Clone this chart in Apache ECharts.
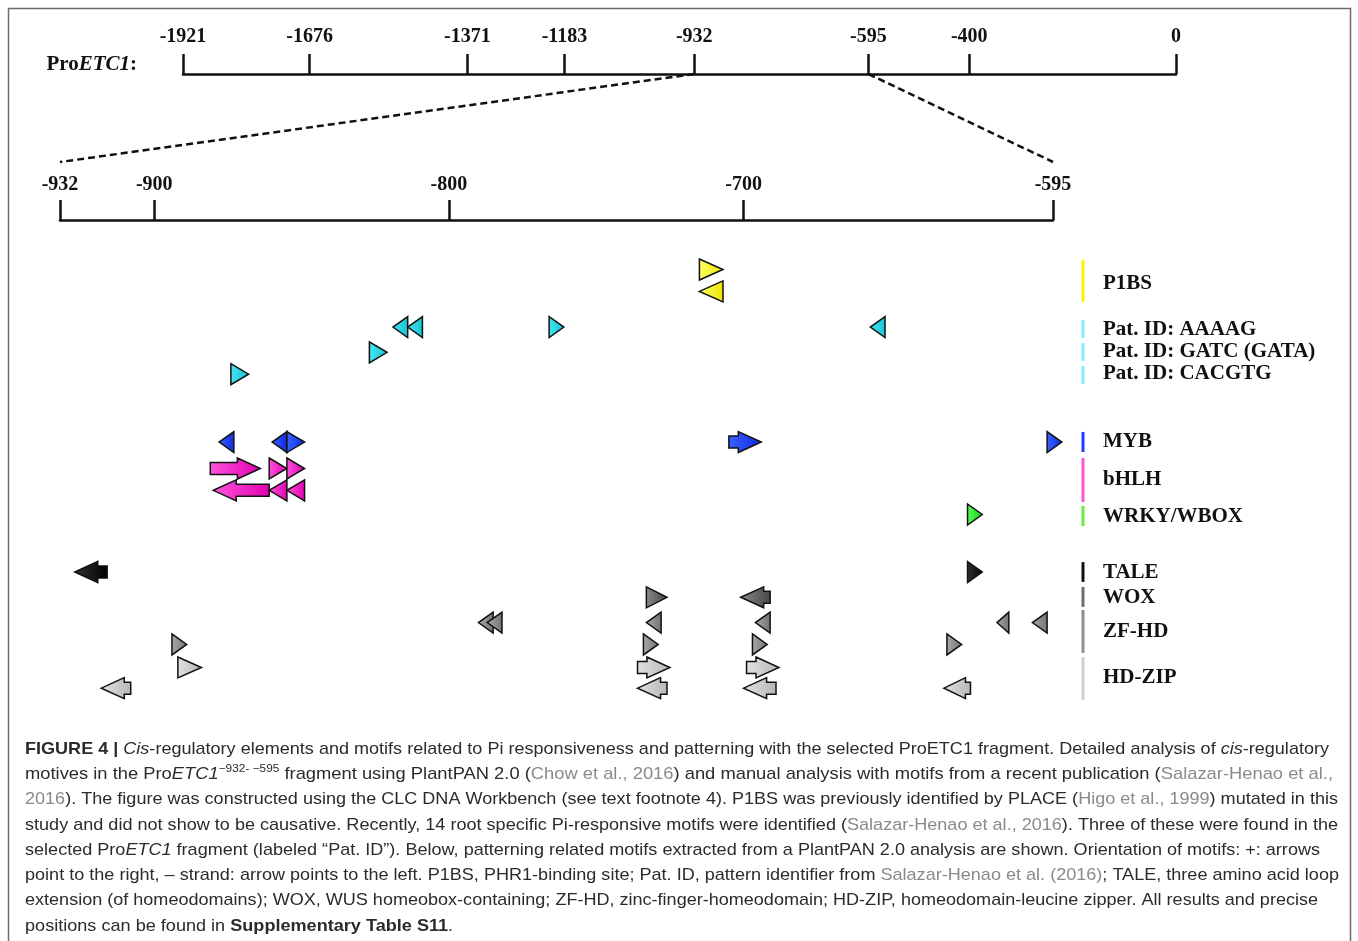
<!DOCTYPE html>
<html>
<head>
<meta charset="utf-8">
<script src="https://cdn.jsdelivr.net/npm/echarts@6/dist/echarts.min.js"></script>
<style>
  html, body { margin: 0; padding: 0; background: #fff; }
  #chart { width: 1358px; height: 941px; }
</style>
</head>
<body>
<div id="chart"></div>
<script>
// tick labels of the two position rulers (bp upstream of the start codon)
const promoterTicks = [-1921, -1676, -1371, -1183, -932, -595, -400, 0]
const fragmentTicks = [-932, -900, -800, -700, -595]

// motifs: [start bp, end bp, strand (+1 right / -1 left), track]
const p1bs = [[-715, -707, 1, 0.85], [-715, -707, -1, 1.8]]
const aaaag = [[-819, -814, -1, 3.35], [-814, -809, -1, 3.35], [-766, -761, 1, 3.35], [-657, -652, -1, 3.35]]
const gatc = [[-827, -821, 1, 4.45]]
const cacgtg = [[-874, -868, 1, 5.4]]
const myb = [[-878, -873, -1, 8.35], [-860, -855, -1, 8.35], [-855, -849, 1, 8.35], [-705, -694, 1, 8.35], [-597, -592, 1, 8.35]]
const bhlh = [
  [-881, -864, 1, 9.5], [-861, -855, 1, 9.5], [-855, -849, 1, 9.5],
  [-880, -861, -1, 10.45], [-861, -855, -1, 10.45], [-855, -849, -1, 10.45],
]
const wrky = [[-624, -619, 1, 11.5]]
const tale = [[-927, -916, -1, 14], [-624, -619, 1, 14]]
const wox = [[-733, -726, 1, 15.1], [-701, -691, -1, 15.1]]
const zfhd = [
  [-790, -785, -1, 16.2], [-787, -782, -1, 16.2], [-733, -728, -1, 16.2], [-696, -691, -1, 16.2],
  [-614, -610, -1, 16.2], [-602, -597, -1, 16.2],
  [-894, -889, 1, 17.15], [-734, -729, 1, 17.15], [-697, -692, 1, 17.15], [-631, -626, 1, 17.15],
]
const hdzip = [
  [-892, -884, 1, 18.15], [-736, -725, 1, 18.15], [-699, -688, 1, 18.15],
  [-918, -908, -1, 19.05], [-736, -726, -1, 19.05], [-700, -689, -1, 19.05], [-632, -623, -1, 19.05],
]

// legend: names, bar extent and label track
const legendNames = ['P1BS', 'Pat. ID: AAAAG', 'Pat. ID: GATC (GATA)', 'Pat. ID: CACGTG', 'MYB', 'bHLH', 'WRKY/WBOX', 'TALE', 'WOX', 'ZF-HD', 'HD-ZIP']
const legendFrom = [0.43, 3.04, 4.04, 5.04, 7.91, 9.04, 11.13, 13.57, 14.65, 15.65, 17.7]
const legendTo = [2.26, 3.83, 4.83, 5.83, 8.78, 10.96, 12.0, 14.43, 15.52, 17.52, 19.57]
const legendAt = [1.48, 3.48, 4.43, 5.39, 8.35, 10.0, 11.57, 14.04, 15.13, 16.61, 18.57]

const LEGEND_COLORS = ['#fff200', '#80eeff', '#80eeff', '#80eeff', '#1f3cff', '#ff55cc', '#66ee44', '#111111', '#6e6e6e', '#8e8e8e', '#d0d0d0']

const families = [
  ['P1BS', p1bs, ['#ffff66', '#eee400']],
  ['AAAAG', aaaag, ['#48e4f2', '#12c4d8']],
  ['GATC', gatc, ['#48e4f2', '#12c4d8']],
  ['CACGTG', cacgtg, ['#48e4f2', '#12c4d8']],
  ['MYB', myb, ['#3d62ff', '#0a2ae0']],
  ['bHLH', bhlh, ['#ff55dc', '#e000b0']],
  ['WRKY', wrky, ['#5cff5c', '#12d012']],
  ['TALE', tale, ['#333333', '#000000']],
  ['WOX', wox, ['#8a8a8a', '#474747']],
  ['ZF-HD', zfhd, ['#ababab', '#727272']],
  ['HD-ZIP', hdzip, ['#e2e2e2', '#b6b6b6']],
]

const SERIF = '"Liberation Serif", "Times New Roman", serif'
const SANS = '"Liberation Sans", Arial, sans-serif'

// caption lines: [style key, text]
const captionLines = [
  [['b', 'FIGURE 4 | '], ['i', 'Cis'], ['n', '-regulatory elements and motifs related to Pi responsiveness and patterning with the selected ProETC1 fragment. Detailed analysis of '], ['i', 'cis'], ['n', '-regulatory']],
  [['n', 'motives in the Pro'], ['i', 'ETC1'], ['s', '\u2212932- \u2212595'], ['n', ' fragment using PlantPAN 2.0 ('], ['g', 'Chow et al., 2016'], ['n', ') and manual analysis with motifs from a recent publication ('], ['g', 'Salazar-Henao et al.,']],
  [['g', '2016'], ['n', '). The figure was constructed using the CLC DNA Workbench (see text footnote 4). P1BS was previously identified by PLACE ('], ['g', 'Higo et al., 1999'], ['n', ') mutated in this']],
  [['n', 'study and did not show to be causative. Recently, 14 root specific Pi-responsive motifs were identified ('], ['g', 'Salazar-Henao et al., 2016'], ['n', '). Three of these were found in the']],
  [['n', 'selected Pro'], ['i', 'ETC1'], ['n', ' fragment (labeled \u201cPat. ID\u201d). Below, patterning related motifs extracted from a PlantPAN 2.0 analysis are shown. Orientation of motifs: +: arrows']],
  [['n', 'point to the right, \u2013 strand: arrow points to the left. P1BS, PHR1-binding site; Pat. ID, pattern identifier from '], ['g', 'Salazar-Henao et al. (2016)'], ['n', '; TALE, three amino acid loop']],
  [['n', 'extension (of homeodomains); WOX, WUS homeobox-containing; ZF-HD, zinc-finger-homeodomain; HD-ZIP, homeodomain-leucine zipper. All results and precise']],
  [['n', 'positions can be found in '], ['b', 'Supplementary Table S11'], ['n', '.']],
]
const captionRight = [1329, 1333, 1338, 1338, 1320, 1339, 1318, null]

const capBase = { fontSize: 17, fontFamily: SANS, fill: '#2b2b2b', lineHeight: 22 }
const capStyles = {
  n: capBase,
  b: { ...capBase, fontWeight: 'bold' },
  i: { ...capBase, fontStyle: 'italic' },
  g: { ...capBase, fill: '#8a8a8a' },
  s: { ...capBase, fontSize: 11, lineHeight: 11, verticalAlign: 'top' },
}

const measureCtx = document.createElement('canvas').getContext('2d')
function lineWidth(line) {
  return line.reduce((sum, [k, t]) => {
    const st = capStyles[k]
    measureCtx.font = `${st.fontStyle || 'normal'} ${st.fontWeight || 'normal'} ${st.fontSize}px ${st.fontFamily}`
    return sum + measureCtx.measureText(t).width
  }, 0)
}

function captionGraphics() {
  const left = 25
  const scales = captionLines.map((line, i) => captionRight[i] ? (captionRight[i] - left) / lineWidth(line) : null)
  const known = scales.filter(s => s)
  const avg = known.reduce((a, b) => a + b, 0) / known.length
  return captionLines.map((line, i) => ({
    type: 'text',
    id: 'cap' + i,
    x: left,
    y: 749 + i * 25.3,
    scaleX: scales[i] || avg,
    style: {
      text: line.map(([k, t]) => `{${k}|${t}}`).join(''),
      rich: capStyles,
      verticalAlign: 'middle',
    },
  }))
}

function motifShape(colors) {
  return (params, api) => {
    const a = api.coord([api.value(0), api.value(3)])
    const b = api.coord([api.value(1), api.value(3)])
    const dir = api.value(2)
    const y = a[1], h = 10.5, s = 6
    const x0 = a[0], x1 = b[0], w = x1 - x0
    let pts
    if (w <= 25) {
      pts = dir > 0 ? [[x0, y - h], [x1, y], [x0, y + h]] : [[x1, y - h], [x0, y], [x1, y + h]]
    } else {
      const head = Math.min(23, w - 5)
      if (dir > 0) {
        const k = x1 - head
        pts = [[x0, y - s], [k, y - s], [k, y - h], [x1, y], [k, y + h], [k, y + s], [x0, y + s]]
      } else {
        const k = x0 + head
        pts = [[x1, y - s], [k, y - s], [k, y - h], [x0, y], [k, y + h], [k, y + s], [x1, y + s]]
      }
    }
    return {
      type: 'polygon',
      shape: { points: pts },
      style: {
        fill: new echarts.graphic.LinearGradient(0, 0, 1, 0, [
          { offset: 0, color: colors[0] }, { offset: 1, color: colors[1] },
        ]),
        stroke: '#111',
        lineWidth: 1.5,
        lineJoin: 'miter',
      },
    }
  }
}

const axisText = { color: '#111', fontFamily: SERIF, fontWeight: 'bold', fontSize: 20 }
const rulerLine = { onZero: false, lineStyle: { color: '#111', width: 2.5 } }

const fragEnd = fragmentTicks[fragmentTicks.length - 1]

const option = {
  animation: false,
  backgroundColor: '#fff',
  grid: [
    { left: 183, width: 993, top: 74, height: 10, outerBoundsMode: 'none' },
    { left: 60, width: 993, top: 250, height: 460, outerBoundsMode: 'none' },
  ],
  xAxis: [
    {
      gridIndex: 0, type: 'value', position: 'top',
      min: promoterTicks[0], max: promoterTicks[promoterTicks.length - 1],
      axisLine: rulerLine,
      axisTick: { customValues: promoterTicks, length: 20, lineStyle: { color: '#111', width: 2.5 } },
      axisLabel: { customValues: promoterTicks, margin: 27, formatter: v => String(v), ...axisText },
      splitLine: { show: false },
    },
    {
      gridIndex: 1, type: 'value', position: 'top', offset: 30,
      min: fragmentTicks[0], max: fragEnd,
      axisLine: rulerLine,
      axisTick: { customValues: fragmentTicks, length: 20, lineStyle: { color: '#111', width: 2.5 } },
      axisLabel: { customValues: fragmentTicks, margin: 25, formatter: v => String(v), ...axisText },
      splitLine: { show: false },
    },
  ],
  yAxis: [
    { gridIndex: 0, type: 'value', min: 0, max: 1, show: false },
    { gridIndex: 1, type: 'value', min: 0, max: 20, inverse: true, show: false },
  ],
  series: [
    ...families.map(([name, data, colors]) => ({
      name, type: 'custom', xAxisIndex: 1, yAxisIndex: 1, clip: false,
      renderItem: motifShape(colors),
      encode: { x: [0, 1], y: 3 },
      data,
    })),
    {
      name: 'legend', type: 'custom', xAxisIndex: 1, yAxisIndex: 1, clip: false,
      data: legendNames.map((n, i) => [legendFrom[i], legendTo[i], legendAt[i], i]),
      encode: { y: [0, 1, 2] },
      renderItem: (params, api) => {
        const i = api.value(3)
        const x = api.coord([fragEnd, 0])[0] + 30
        const y0 = api.coord([fragEnd, api.value(0)])[1]
        const y1 = api.coord([fragEnd, api.value(1)])[1]
        const yl = api.coord([fragEnd, api.value(2)])[1]
        return {
          type: 'group',
          children: [
            { type: 'rect', shape: { x: x - 1.5, y: y0, width: 3, height: y1 - y0 }, style: { fill: LEGEND_COLORS[i] } },
            {
              type: 'text', x: x + 20, y: yl,
              style: { text: legendNames[i], font: `bold 21px ${SERIF}`, fill: '#111', verticalAlign: 'middle' },
            },
          ],
        }
      },
    },
  ],
  graphic: {
    elements: [
      {
        type: 'rect', id: 'frame', z: -1,
        shape: { x: 8.5, y: 8.5, width: 1342, height: 960 },
        style: { fill: 'none', stroke: '#6b6b6b', lineWidth: 1.5 },
      },
      {
        type: 'text', id: 'promoterName', x: 137, y: 65,
        style: {
          text: '{r|Pro}{i|ETC1}{r|:}',
          align: 'right', verticalAlign: 'middle',
          rich: {
            r: { fontFamily: SERIF, fontWeight: 'bold', fontSize: 21, fill: '#111' },
            i: { fontFamily: SERIF, fontWeight: 'bold', fontStyle: 'italic', fontSize: 21, fill: '#111' },
          },
        },
      },
      ...captionGraphics(),
    ],
  },
}

const chart = echarts.init(document.getElementById('chart'), null, { renderer: 'canvas' })
chart.setOption(option)

// dashed zoom connectors from the promoter ruler down to the fragment ruler
const topY = 74
const bottomY = 162
const connectors = [fragmentTicks[0], fragEnd].map((v, i) => ({
  type: 'line', id: 'zoom' + i,
  shape: {
    x1: chart.convertToPixel({ xAxisIndex: 0 }, v), y1: topY,
    x2: chart.convertToPixel({ xAxisIndex: 1 }, v), y2: bottomY,
  },
  style: { stroke: '#111', lineWidth: 2.5, lineDash: [7, 4] },
}))
chart.setOption({ graphic: { elements: connectors } })

window.addEventListener('resize', () => chart.resize())
</script>
</body>
</html>
